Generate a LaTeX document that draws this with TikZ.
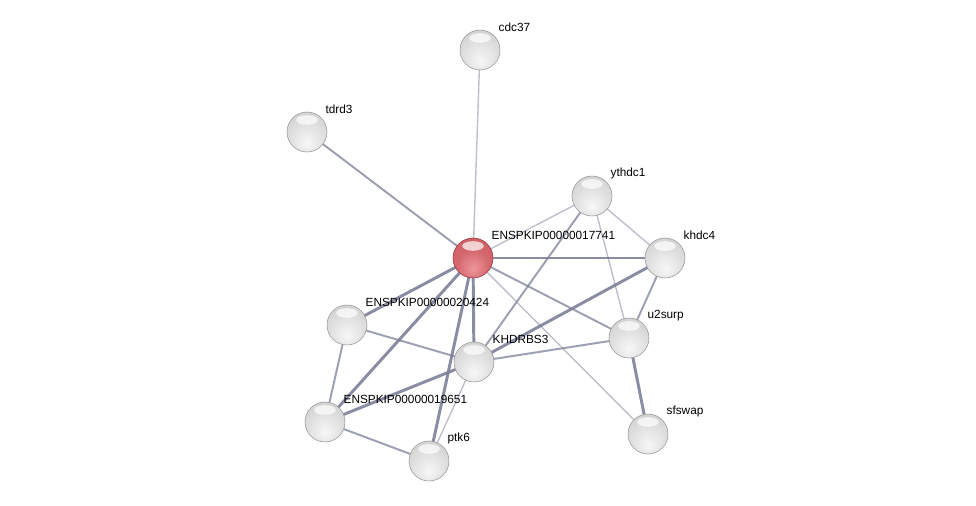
\documentclass[tikz,border=0pt]{standalone}
\usepackage{fontspec}
\setmainfont{Liberation Sans}
\usepackage{xcolor}
\usepackage{tikz}
\usetikzlibrary{backgrounds}

\definecolor{edgecol}{RGB}{124,128,152}
\definecolor{redmid}{RGB}{205,92,98}
\definecolor{redrim}{RGB}{150,58,64}
\definecolor{redlow}{RGB}{238,150,155}

\pgfdeclareradialshading{grayball}{\pgfpoint{0bp}{-14bp}}{color(0bp)=(gray!6); color(20bp)=(gray!24); color(36bp)=(gray!38); color(45bp)=(gray!55); color(50bp)=(gray!78); color(70bp)=(gray!78)}
\pgfdeclareradialshading{redball}{\pgfpoint{0bp}{-14bp}}{color(0bp)=(redlow); color(20bp)=(redmid!80!redlow); color(38bp)=(redmid); color(47bp)=(redrim!80!redmid); color(50bp)=(redrim); color(70bp)=(redrim)}

\begin{document}
\begin{tikzpicture}[
  x=0.025cm, y=-0.025cm,
  protein/.style={circle, minimum size=1cm, inner sep=0pt, shading=grayball, draw=gray!80, line width=0.4pt,
    path picture={\fill[white, opacity=0.7] ([yshift=0.3cm]path picture bounding box.center) ellipse (0.27cm and 0.12cm);}},
  query/.style={protein, shading=redball, draw=redrim},
  lbl/.style={font=\fontsize{8.4}{10}\selectfont, inner sep=0pt, anchor=west, xshift=0.1cm, yshift=0.2cm},
  thinE/.style={draw=edgecol, opacity=0.5, line width=1.0pt},
  midE/.style={draw=edgecol, opacity=0.75, line width=1.4pt},
  thickE/.style={draw=edgecol, opacity=0.9, line width=2.1pt}
]
\useasboundingbox (0,0) rectangle (976,506);

\node[query, label={[lbl]45:ENSPKIP00000017741}] (q) at (473,258) {};
\node[protein, label={[lbl]45:cdc37}] (cdc37) at (480,50) {};
\node[protein, label={[lbl]45:tdrd3}] (tdrd3) at (307,132) {};
\node[protein, label={[lbl]45:ythdc1}] (ythdc1) at (592,196) {};
\node[protein, label={[lbl]45:khdc4}] (khdc4) at (665,258) {};
\node[protein, label={[lbl]45:ENSPKIP00000020424}] (p20424) at (347,325) {};
\node[protein, label={[lbl]45:u2surp}] (u2surp) at (629,338) {};
\node[protein, label={[lbl]45:KHDRBS3}] (khdrbs3) at (474,362) {};
\node[protein, label={[lbl]45:ENSPKIP00000019651}] (p19651) at (325,422) {};
\node[protein, label={[lbl]45:ptk6}] (ptk6) at (429,461) {};
\node[protein, label={[lbl]45:sfswap}] (sfswap) at (648,434) {};

\begin{scope}[on background layer]
% edges from the query protein
\draw[thinE] (q.center) -- (cdc37.center);
\draw[midE] (q.center) -- (tdrd3.center);
\draw[thinE] (q.center) -- (ythdc1.center);
\draw[thickE] (q.center) -- (khdc4.center);
\draw[midE] (q.center) -- (u2surp.center);
\draw[thinE] (q.center) -- (sfswap.center);
\draw[thickE] (q.center) -- (p20424.center);
\draw[thickE] (q.center) -- (khdrbs3.center);
\draw[thickE] (q.center) -- (p19651.center);
\draw[thickE] (q.center) -- (ptk6.center);
% other edges
\draw[thinE] (ythdc1.center) -- (khdc4.center);
\draw[thinE] (ythdc1.center) -- (u2surp.center);
\draw[midE] (ythdc1.center) -- (khdrbs3.center);
\draw[midE] (khdc4.center) -- (u2surp.center);
\draw[thickE] (khdc4.center) -- (khdrbs3.center);
\draw[midE] (u2surp.center) -- (khdrbs3.center);
\draw[thickE] (u2surp.center) -- (sfswap.center);
\draw[midE] (p20424.center) -- (khdrbs3.center);
\draw[midE] (p20424.center) -- (p19651.center);
\draw[thickE] (p19651.center) -- (khdrbs3.center);
\draw[midE] (p19651.center) -- (ptk6.center);
\draw[thinE] (ptk6.center) -- (khdrbs3.center);
\end{scope}
\end{tikzpicture}
\end{document}
